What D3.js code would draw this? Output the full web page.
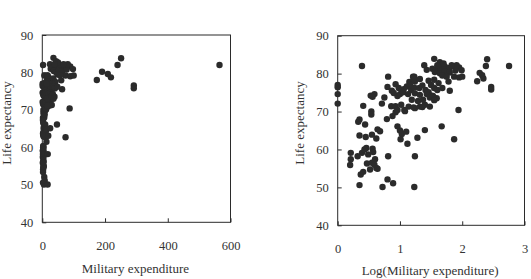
<!DOCTYPE html>
<html>
<head>
<meta charset="utf-8">
<script src="https://cdn.jsdelivr.net/npm/d3@7"></script>
<style>
  body { margin: 0; background: #fff; }
  text { font-family: "Liberation Serif", "Times New Roman", serif; }
</style>
</head>
<body>
<svg id="chart" width="531" height="279"></svg>
<script>
// log10 of military expenditure
var logMilitary = [
  0, 0, 0, 0,
  0.21, 0.21, 0.2, 0.32, 0.39, 0.46, 0.43, 0.49, 0.56, 0.57, 0.37, 0.41, 0.47, 0.52, 0.55, 0.6,
  0.62, 0.64, 0.59, 0.35, 0.72, 0.8, 0.89, 0.81, 1.24, 1.23,
  0.39, 0.41, 0.53, 0.59, 0.56, 0.54, 0.54, 0.35, 0.33, 0.44, 0.35, 0.45, 0.55, 0.64, 0.68, 0.71,
  0.75, 0.8, 0.81, 0.79, 0.87, 0.9, 0.86, 0.93, 0.88, 0.93, 0.93, 0.96, 1.0, 1.03, 1.01, 0.96,
  1.0, 1.03, 1.06, 0.96, 1.08, 1.1, 1.12, 0.62, 1.4, 1.28,
  1.39, 1.55, 1.64, 1.43, 1.52, 1.59, 1.66, 1.72, 1.79, 1.87, 1.95, 1.56, 1.64, 1.72, 1.8, 1.89,
  1.87, 1.95, 1.21, 1.32, 1.24, 1.46, 1.55, 1.62, 1.5, 1.78, 1.8, 0.98, 1.11, 1.18, 1.23, 1.31,
  1.36, 1.41, 1.46, 1.55, 1.6, 1.68, 1.05, 1.13, 1.24, 1.32, 1.43, 1.51, 1.59, 1.02, 1.07, 1.14,
  1.24, 1.32, 1.4, 1.48, 1.29, 1.37, 1.19, 1.48, 1.53, 1.55, 1.15, 1.22, 1.16, 1.23, 1.36, 1.22,
  1.7, 1.91, 1.99, 1.83, 1.6, 1.68, 1.75,
  1.67, 1.87, 1.94, 2.0, 2.24, 2.28, 2.32, 2.34, 2.38, 2.4, 2.465, 2.465, 2.752
];
var lifeExpectancy = [
  77, 76.4, 74.6, 72.1,
  59.1, 57.4, 55.9, 58.2, 59.1, 60.4, 60, 58.7, 60.2, 59.3, 53.4, 54.1, 56.3, 54.7, 56.5, 57.4,
  55.1, 54.9, 56, 50.6, 50.1, 52.1, 51.1, 58.2, 58.2, 50.1,
  82, 71.5, 74.2, 74.6, 73.9, 70, 69.2, 67.9, 67.3, 66.6, 63.7, 63.3, 63.9, 65.3, 64.8, 72.1,
  73.7, 76.5, 79.2, 68, 75.5, 74.9, 71.4, 71.4, 68.8, 69.8, 77.2, 66.1, 65, 64.1, 62.7, 74.1,
  74.6, 75.5, 75.9, 70.4, 70.1, 64.7, 61.5, 62.9, 65.1, 63.1,
  82.2, 83.9, 83, 81, 81.3, 81, 81.5, 81.9, 81.5, 81.9, 81.6, 80.4, 80.1, 80.6, 80.3, 80.8,
  79.2, 79, 79.2, 78.6, 77.9, 78.1, 78.4, 77.5, 77, 77.9, 75.5, 76.2, 76.6, 75.7, 76.3, 76.2,
  76.9, 75.7, 75.1, 76.2, 75.7, 76.2, 75.1, 74.6, 74.8, 74.4, 74.6, 74.2, 73.5, 71.8, 70.4, 71.3,
  70.9, 71.3, 71.8, 71.3, 72.8, 73.1, 73.1, 73.7, 74.1, 73, 77.8, 78.5, 77, 79.2, 71.2, 71.1,
  82.7, 82.2, 80.9, 82.2, 82.2, 79.5, 79.2,
  66.1, 62.7, 70.4, 79.2, 78, 80.2, 79.6, 78.7, 82, 83.8, 76.5, 75.8, 82
];
var yTicks = [40, 50, 60, 70, 80, 90];
var militaryTicks = [0, 200, 400, 600];
var logTicks = [0, 1, 2, 3];

var points = logMilitary.map(function(v, i) {
  return { log: v, raw: Math.pow(10, v), life: lifeExpectancy[i] };
});

var svg = d3.select("#chart");
var ink = "#2b2b2b";

var drawPanel = function(p) {
  var x = d3.scaleLinear().domain(p.xDomain).range([p.left, p.right]),
      y = d3.scaleLinear().domain([40, 90]).range([p.bottom, p.top]);

  var g = svg.append("g");

  // frame
  g.append("rect")
    .attr("x", p.left).attr("y", p.top)
    .attr("width", p.right - p.left).attr("height", p.bottom - p.top)
    .attr("fill", "none").attr("stroke", ink).attr("stroke-width", 1);

  var yAxis = g.append("g")
    .attr("transform", "translate(" + p.left + ",0)")
    .call(d3.axisLeft(y).tickValues(yTicks).tickFormat(d3.format("d"))
      .tickSizeInner(-4).tickSizeOuter(0).tickPadding(9));

  var xAxis = g.append("g")
    .attr("transform", "translate(0," + p.bottom + ")")
    .call(d3.axisBottom(x).tickValues(p.ticks).tickFormat(d3.format("d"))
      .tickSizeInner(-4).tickSizeOuter(0).tickPadding(18.5));

  [yAxis, xAxis].forEach(function(a) {
    a.select(".domain").remove();
    a.selectAll("line").attr("stroke", ink);
    a.selectAll("text")
      .attr("fill", "#333")
      .style("font-family", '"Liberation Serif", serif')
      .style("font-size", "12.5px");
  });

  g.selectAll("circle")
    .data(points)
    .enter()
    .append("circle")
    .attr("cx", function(d) { return x(d[p.key]); })
    .attr("cy", function(d) { return y(d.life); })
    .attr("r", 3.2)
    .attr("fill", ink);

  g.append("text")
    .attr("x", (p.left + p.right) / 2 - 1)
    .attr("y", p.xTitleY)
    .attr("text-anchor", "middle")
    .attr("fill", "#333")
    .style("font-size", "13px")
    .text(p.xTitle);

  g.append("text")
    .attr("transform", "translate(" + p.yTitleX + ",123) rotate(-90)")
    .attr("text-anchor", "middle")
    .attr("fill", "#333")
    .style("font-size", "13px")
    .text("Life expectancy");
};

drawPanel({
  key: "raw", xDomain: [0, 600], ticks: militaryTicks,
  left: 42.3, right: 230.5, top: 35, bottom: 222.3,
  xTitle: "Military expenditure", xTitleY: 273, yTitleX: 11
});

drawPanel({
  key: "log", xDomain: [0, 3], ticks: logTicks,
  left: 337.7, right: 524.5, top: 35.7, bottom: 225.3,
  xTitle: "Log(Military expenditure)", xTitleY: 274.5, yTitleX: 304
});
</script>
</body>
</html>
